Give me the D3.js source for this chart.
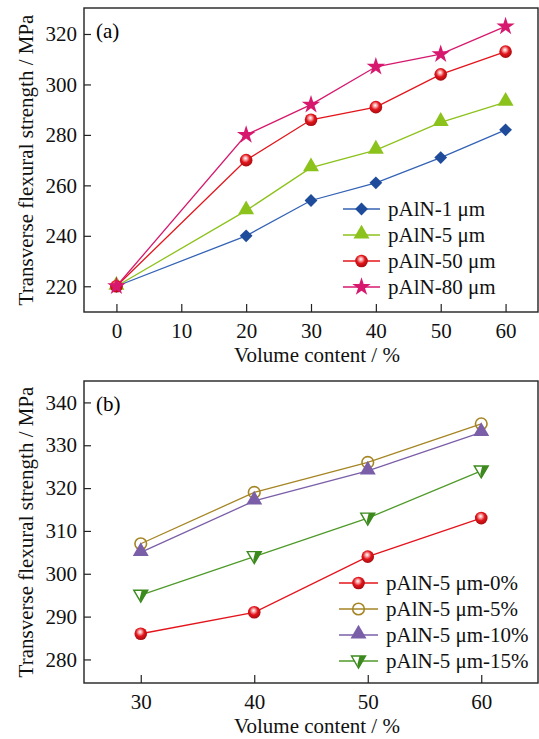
<!DOCTYPE html>
<html>
<head>
<meta charset="utf-8">
<script src="https://cdn.jsdelivr.net/npm/d3@7"></script>
<style>
  body { margin: 0; background: #fff; }
  svg, svg text { font-family: "Liberation Serif", "Times New Roman", serif; }
  .tick text { font-size: 21px; fill: #111; }
  .axis path, .axis line { stroke: #222; }
</style>
</head>
<body>
<div id="chart"></div>
<script>
// panel (a) data
const volA = [0, 20, 30, 40, 50, 60];
const seriesA = ["pAlN-1 μm", "pAlN-5 μm", "pAlN-50 μm", "pAlN-80 μm"];
const p1 = [220, 240, 254, 261, 271, 282];
const p5 = [220, 250, 267, 274, 285, 293];
const p50 = [220, 270, 286, 291, 304, 313];
const p80 = [220, 280, 292, 307, 312, 323];
const ticksXA = [0, 10, 20, 30, 40, 50, 60];
const ticksYA = [220, 240, 260, 280, 300, 320];

// panel (b) data
const volB = [30, 40, 50, 60];
const seriesB = ["pAlN-5 μm-0%", "pAlN-5 μm-5%", "pAlN-5 μm-10%", "pAlN-5 μm-15%"];
const b0 = [286, 291, 304, 313];
const b5 = [307, 319, 326, 335];
const b10 = [305, 317, 324, 333];
const b15 = [295, 304, 313, 324];
const ticksXB = [30, 40, 50, 60];
const ticksYB = [280, 290, 300, 310, 320, 330, 340];

const W = 539, H = 739, FS = 21;
const svg = d3.select("#chart").append("svg").attr("width", W).attr("height", H);

// red ball gradient
const defs = svg.append("defs");
const grad = defs.append("radialGradient").attr("id", "ball")
  .attr("cx", "45%").attr("cy", "40%").attr("r", "60%").attr("fx", "45%").attr("fy", "35%");
grad.append("stop").attr("offset", "0%").attr("stop-color", "#ffffff");
grad.append("stop").attr("offset", "25%").attr("stop-color", "#f5a0a0");
grad.append("stop").attr("offset", "55%").attr("stop-color", "#e3141b");
grad.append("stop").attr("offset", "100%").attr("stop-color", "#a50d10");

function marker(g, type, color) {
  if (type === "diamond") {
    g.append("path").attr("d", d3.symbol(d3.symbolSquare, 82)())
      .attr("transform", "rotate(45)").attr("fill", color);
  } else if (type === "tri") {
    g.append("path").attr("d", d3.symbol(d3.symbolTriangle, 110)())
      .attr("transform", "translate(0,-1)").attr("fill", color);
  } else if (type === "ball") {
    g.append("circle").attr("r", 6.3).attr("fill", "url(#ball)");
  } else if (type === "star") {
    g.append("path").attr("d", d3.symbol(d3.symbolStar, 105)()).attr("fill", color);
  } else if (type === "ring") {
    g.append("circle").attr("r", 5.8).attr("fill", "none").attr("stroke", color).attr("stroke-width", 1.6);
  } else if (type === "dtri") {
    g.append("path").attr("d", "M-7,-5L7,-5L0,7Z").attr("fill", "#fff")
      .attr("stroke", color).attr("stroke-width", 1.4);
    g.append("path").attr("d", "M1,-5L7,-5L0,7L-1,3Z").attr("fill", color);
  }
}

function panel(cfg) {
  const { top, bottom, left, right, xDom, yDom, xTicks, yTicks, series, label } = cfg;
  const x = d3.scaleLinear().domain(xDom).range([left, right]);
  const y = d3.scaleLinear().domain(yDom).range([bottom, top]);
  const g = svg.append("g");

  g.append("g").attr("class", "axis").attr("transform", `translate(0,${bottom})`)
    .call(d3.axisBottom(x).tickValues(xTicks).tickSizeInner(-8).tickSizeOuter(0).tickPadding(11))
    .call(s => s.select(".domain").remove());
  g.append("g").attr("class", "axis").attr("transform", `translate(${left},0)`)
    .call(d3.axisLeft(y).tickValues(yTicks).tickSizeInner(-7).tickSizeOuter(0).tickPadding(7))
    .call(s => s.select(".domain").remove());
  g.selectAll(".axis").attr("font-family", null).attr("font-size", null);
  g.selectAll(".tick line").attr("stroke-width", 1.2);

  g.append("rect").attr("x", left).attr("y", top).attr("width", right - left).attr("height", bottom - top)
    .attr("fill", "none").attr("stroke", "#222").attr("stroke-width", 1.4);

  const line = d3.line().x(d => x(d[0])).y(d => y(d[1]));
  series.forEach(s => {
    const pts = cfg.xs.map((v, i) => [v, s.values[i]]);
    g.append("path").attr("d", line(pts)).attr("fill", "none")
      .attr("stroke", s.line).attr("stroke-width", 1.3);
    pts.forEach(p => {
      marker(g.append("g").attr("transform", `translate(${x(p[0])},${y(p[1])})`), s.mark, s.color);
    });
  });

  // legend
  series.forEach((s, i) => {
    const ly = cfg.legY + i * cfg.legGap;
    g.append("line").attr("x1", cfg.legX).attr("x2", cfg.legX + cfg.legLen)
      .attr("y1", ly).attr("y2", ly).attr("stroke", s.line).attr("stroke-width", 1.3);
    marker(g.append("g").attr("transform", `translate(${cfg.legX + cfg.legLen / 2},${ly})`), s.mark, s.color);
    g.append("text").attr("x", cfg.legX + cfg.legLen + 8).attr("y", ly + 7)
      .attr("font-size", FS).attr("fill", "#111").text(s.name);
  });

  g.append("text").attr("x", left + 12).attr("y", top + 30).attr("font-size", FS).text(label);

  g.append("text").attr("x", (left + right) / 2 + 6).attr("y", cfg.xTitleY)
    .attr("text-anchor", "middle").attr("font-size", FS).attr("fill", "#111").text("Volume content / %");
  g.append("text").attr("transform", `translate(33,${(top + bottom) / 2}) rotate(-90)`)
    .attr("text-anchor", "middle").attr("font-size", FS).attr("fill", "#111")
    .text("Transverse flexural strength / MPa");
}

panel({
  top: 8, bottom: 312, left: 84, right: 538,
  xDom: [-5, 65], yDom: [209.8, 330.3], xTicks: ticksXA, yTicks: ticksYA, xs: volA,
  label: "(a)", xTitleY: 362, legX: 343, legY: 209, legGap: 26, legLen: 37,
  series: [
    { name: seriesA[0], values: p1, mark: "diamond", color: "#1f4c9a", line: "#3463b5" },
    { name: seriesA[1], values: p5, mark: "tri", color: "#8cc21c", line: "#8cc21c" },
    { name: seriesA[2], values: p50, mark: "ball", color: "#e3141b", line: "#e3141b" },
    { name: seriesA[3], values: p80, mark: "star", color: "#d6186e", line: "#d6186e" }
  ]
});

panel({
  top: 381, bottom: 683, left: 84, right: 538,
  xDom: [25, 65], yDom: [274.5, 345], xTicks: ticksXB, yTicks: ticksYB, xs: volB,
  label: "(b)", xTitleY: 733, legX: 339, legY: 583, legGap: 26, legLen: 39,
  series: [
    { name: seriesB[0], values: b0, mark: "ball", color: "#e3141b", line: "#e3141b" },
    { name: seriesB[1], values: b5, mark: "ring", color: "#a58524", line: "#a58524" },
    { name: seriesB[2], values: b10, mark: "tri", color: "#7a5ea8", line: "#7a5ea8" },
    { name: seriesB[3], values: b15, mark: "dtri", color: "#3c8a1e", line: "#4f9a2a" }
  ]
});
</script>
</body>
</html>
